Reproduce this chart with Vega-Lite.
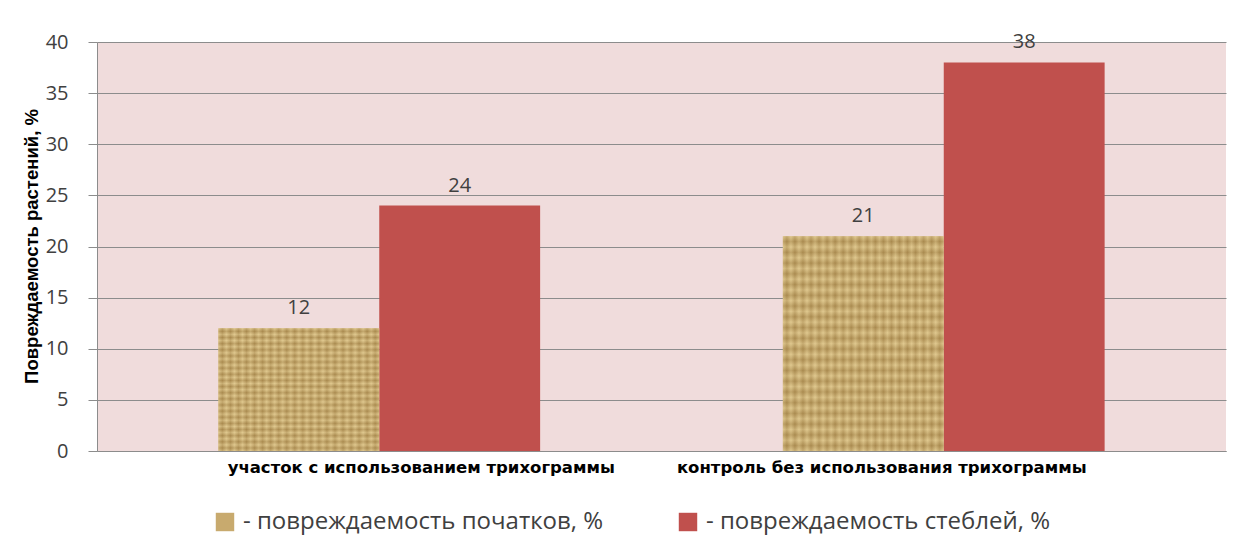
{
  "$schema": "https://vega.github.io/schema/vega-lite/v6.json",
  "width": 1129,
  "height": 409,
  "autosize": {"type": "none"},
  "padding": {"left": 97, "top": 42, "right": 13, "bottom": 105},
  "background": "#ffffff",
  "config": {
    "view": {"fill": "#f0dcdc", "stroke": null},
    "font": "Open Sans"
  },
  "data": {
    "values": [
      {"group": "участок с использованием трихограммы", "series": "повреждаемость початков, %", "value": 12},
      {"group": "участок с использованием трихограммы", "series": "повреждаемость стеблей, %", "value": 24},
      {"group": "контроль без использования трихограммы", "series": "повреждаемость початков, %", "value": 21},
      {"group": "контроль без использования трихограммы", "series": "повреждаемость стеблей, %", "value": 38}
    ]
  },
  "encoding": {
    "x": {
      "field": "group", "type": "nominal", "sort": null,
      "scale": {"paddingInner": 0.43, "paddingOuter": 0.215},
      "axis": {
        "title": null, "labelAngle": 0, "ticks": false,
        "labelFont": "DejaVu Sans", "labelFontWeight": "bold", "labelFontSize": 16.5,
        "labelColor": "#000000", "labelPadding": 8,
        "labelOffset": {"condition": {"test": "datum.label == 'участок с использованием трихограммы'", "value": 42}, "value": -62},
        "domainColor": "#8c8c8c", "labelLimit": 600
      }
    },
    "xOffset": {"field": "series", "type": "nominal", "sort": null, "scale": {"paddingInner": 0, "paddingOuter": 0}},
    "y": {
      "field": "value", "type": "quantitative",
      "scale": {"domain": [0, 40], "nice": false},
      "axis": {
        "values": [0, 5, 10, 15, 20, 25, 30, 35, 40],
        "title": "Повреждаемость растений, %",
        "titleFont": "Liberation Sans", "titleFontWeight": "bold", "titleFontSize": 18.5,
        "titleColor": "#000000",
        "titleAngle": -90, "titleX": -56, "titleY": 204, "titleAlign": "center", "titleBaseline": "bottom",
        "labelFont": "Open Sans", "labelFontSize": 20, "labelColor": "#404040",
        "labelPadding": 20, "tickSize": 9, "tickColor": "#8c8c8c",
        "domainColor": "#8c8c8c",
        "grid": true, "gridColor": "#8c8c8c", "gridWidth": 1
      }
    }
  },
  "layer": [
    {
      "mark": {"type": "bar"},
      "encoding": {
        "color": {
          "field": "series", "type": "nominal", "sort": null,
          "scale": {"range": ["#c8aa6e", "#c0504d"]},
          "legend": {
            "title": null, "orient": "none", "direction": "horizontal",
            "legendX": 116, "legendY": 468,
            "symbolType": "square", "symbolSize": 340, "symbolStrokeWidth": 0,
            "labelFont": "Open Sans", "labelFontSize": 24, "labelColor": "#404040",
            "labelExpr": "'- ' + datum.label", "labelLimit": 500, "labelOffset": 6,
            "columnPadding": 72
          }
        }
      }
    },
    {
      "transform": [{"filter": "datum.series == 'повреждаемость початков, %'"}],
      "mark": {"type": "bar", "opacity": 0.5, "fill": {"gradient": "linear", "x1": 0, "y1": 0, "x2": 1, "y2": 0, "stops": [
        {"offset": 0, "color": "#ecd8a0"}, {"offset": 0.025, "color": "#9a7a40"},
        {"offset": 0.05, "color": "#ecd8a0"}, {"offset": 0.075, "color": "#9a7a40"},
        {"offset": 0.1, "color": "#ecd8a0"}, {"offset": 0.125, "color": "#9a7a40"},
        {"offset": 0.15, "color": "#ecd8a0"}, {"offset": 0.175, "color": "#9a7a40"},
        {"offset": 0.2, "color": "#ecd8a0"}, {"offset": 0.225, "color": "#9a7a40"},
        {"offset": 0.25, "color": "#ecd8a0"}, {"offset": 0.275, "color": "#9a7a40"},
        {"offset": 0.3, "color": "#ecd8a0"}, {"offset": 0.325, "color": "#9a7a40"},
        {"offset": 0.35, "color": "#ecd8a0"}, {"offset": 0.375, "color": "#9a7a40"},
        {"offset": 0.4, "color": "#ecd8a0"}, {"offset": 0.425, "color": "#9a7a40"},
        {"offset": 0.45, "color": "#ecd8a0"}, {"offset": 0.475, "color": "#9a7a40"},
        {"offset": 0.5, "color": "#ecd8a0"}, {"offset": 0.525, "color": "#9a7a40"},
        {"offset": 0.55, "color": "#ecd8a0"}, {"offset": 0.575, "color": "#9a7a40"},
        {"offset": 0.6, "color": "#ecd8a0"}, {"offset": 0.625, "color": "#9a7a40"},
        {"offset": 0.65, "color": "#ecd8a0"}, {"offset": 0.675, "color": "#9a7a40"},
        {"offset": 0.7, "color": "#ecd8a0"}, {"offset": 0.725, "color": "#9a7a40"},
        {"offset": 0.75, "color": "#ecd8a0"}, {"offset": 0.775, "color": "#9a7a40"},
        {"offset": 0.8, "color": "#ecd8a0"}, {"offset": 0.825, "color": "#9a7a40"},
        {"offset": 0.85, "color": "#ecd8a0"}, {"offset": 0.875, "color": "#9a7a40"},
        {"offset": 0.9, "color": "#ecd8a0"}, {"offset": 0.925, "color": "#9a7a40"},
        {"offset": 0.95, "color": "#ecd8a0"}, {"offset": 0.975, "color": "#9a7a40"},
        {"offset": 1, "color": "#ecd8a0"}
      ]}},
      "encoding": {}
    },
    {
      "transform": [{"filter": "datum.series == 'повреждаемость початков, %'"}],
      "mark": {"type": "bar", "opacity": 0.35, "fill": {"gradient": "linear", "x1": 0, "y1": 0, "x2": 0, "y2": 1, "stops": [
        {"offset": 0, "color": "#ecd8a0"}, {"offset": 0.025, "color": "#9a7a40"},
        {"offset": 0.05, "color": "#ecd8a0"}, {"offset": 0.075, "color": "#9a7a40"},
        {"offset": 0.1, "color": "#ecd8a0"}, {"offset": 0.125, "color": "#9a7a40"},
        {"offset": 0.15, "color": "#ecd8a0"}, {"offset": 0.175, "color": "#9a7a40"},
        {"offset": 0.2, "color": "#ecd8a0"}, {"offset": 0.225, "color": "#9a7a40"},
        {"offset": 0.25, "color": "#ecd8a0"}, {"offset": 0.275, "color": "#9a7a40"},
        {"offset": 0.3, "color": "#ecd8a0"}, {"offset": 0.325, "color": "#9a7a40"},
        {"offset": 0.35, "color": "#ecd8a0"}, {"offset": 0.375, "color": "#9a7a40"},
        {"offset": 0.4, "color": "#ecd8a0"}, {"offset": 0.425, "color": "#9a7a40"},
        {"offset": 0.45, "color": "#ecd8a0"}, {"offset": 0.475, "color": "#9a7a40"},
        {"offset": 0.5, "color": "#ecd8a0"}, {"offset": 0.525, "color": "#9a7a40"},
        {"offset": 0.55, "color": "#ecd8a0"}, {"offset": 0.575, "color": "#9a7a40"},
        {"offset": 0.6, "color": "#ecd8a0"}, {"offset": 0.625, "color": "#9a7a40"},
        {"offset": 0.65, "color": "#ecd8a0"}, {"offset": 0.675, "color": "#9a7a40"},
        {"offset": 0.7, "color": "#ecd8a0"}, {"offset": 0.725, "color": "#9a7a40"},
        {"offset": 0.75, "color": "#ecd8a0"}, {"offset": 0.775, "color": "#9a7a40"},
        {"offset": 0.8, "color": "#ecd8a0"}, {"offset": 0.825, "color": "#9a7a40"},
        {"offset": 0.85, "color": "#ecd8a0"}, {"offset": 0.875, "color": "#9a7a40"},
        {"offset": 0.9, "color": "#ecd8a0"}, {"offset": 0.925, "color": "#9a7a40"},
        {"offset": 0.95, "color": "#ecd8a0"}, {"offset": 0.975, "color": "#9a7a40"},
        {"offset": 1, "color": "#ecd8a0"}
      ]}},
      "encoding": {}
    },
    {
      "mark": {"type": "text", "baseline": "bottom", "dy": -10, "fontSize": 20, "font": "Open Sans", "color": "#404040"},
      "encoding": {"text": {"field": "value", "type": "quantitative"}}
    }
  ]
}
